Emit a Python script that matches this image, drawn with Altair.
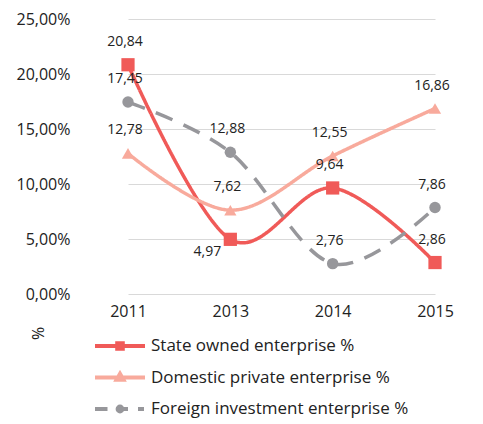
import altair as alt
import pandas as pd

years = ["2011", "2013", "2014", "2015"]
series = ["State owned enterprise %", "Domestic private enterprise %", "Foreign investment enterprise %"]
state = [20.84, 4.97, 9.64, 2.86]
domestic = [12.78, 7.62, 12.55, 16.86]
foreign = [17.45, 12.88, 2.76, 7.86]
colors = ["#F05A58", "#F8AA9C", "#97979B"]
markers = ["square", "triangle-up", "circle"]
marker_sizes = [175, 150, 130]
dashes = [[1, 0], [1, 0], [18, 12]]
# labels drawn below-left of their point (series, year)
below_labels = [("State owned enterprise %", "2013")]

# legend symbols: line + marker
legend_paths = [
    "M-2.5,0 H2.5 M-0.28,-0.28 H0.28 V0.28 H-0.28 Z",
    "M-2.5,0 H2.5 M0,-0.38 L0.34,0.22 L-0.34,0.22 Z",
    "M-2.5,0 H-1.25 M-0.4,0 H0.8 M1.8,0 H2.4 M0.24,0 A0.24,0.24 0 1,1 -0.24,0 A0.24,0.24 0 1,1 0.24,0 Z",
]

rows = []
for name, vals in zip(series, [state, domestic, foreign]):
    for y, v in zip(years, vals):
        rows.append({"series": name, "year": y, "value": v,
                     "below": (name, y) in below_labels})
df = pd.DataFrame(rows)

FONT = "Open Sans"
TXT = "#222222"

x_enc = alt.X("year:O", scale=alt.Scale(type="point", range=[51, 358], padding=0),
              axis=alt.Axis(title=None, labelFontSize=16, labelColor=TXT,
                            labelFont=FONT, ticks=False, domain=False, grid=False,
                            labelPadding=9, labelAngle=0))
y_enc = alt.Y("value:Q", scale=alt.Scale(domain=[0, 25]),
              axis=alt.Axis(title="%", values=[0, 5, 10, 15, 20, 25],
                            labelExpr="replace(format(datum.value, '.2f'), '.', ',') + '%'",
                            labelFontSize=16, labelColor=TXT, labelFont=FONT,
                            ticks=False, domain=False, gridColor="#D9D9D9", gridWidth=1.2,
                            labelPadding=7, titleX=-39, titleY=314, titleAngle=-90,
                            titleFontSize=16, titleFontWeight="normal", titleFont=FONT,
                            titleColor=TXT, titleAlign="center", titleBaseline="middle"))

base = alt.Chart(df)

line_layers = []
point_layers = []
for name, col, dash, shp, sz in zip(series, colors, dashes, markers, marker_sizes):
    sub = base.transform_filter(alt.datum.series == name)
    line_layers.append(
        sub.mark_line(interpolate="cardinal", strokeWidth=3.5, color=col, strokeDash=dash)
        .encode(x=x_enc, y=y_enc)
    )
    point_layers.append(
        sub.mark_point(shape=shp, filled=True, opacity=1, size=sz, color=col)
        .encode(x=x_enc, y=y_enc)
    )

label_expr = "replace(format(datum.value, '.2f'), '.', ',')"
labels_above = base.transform_filter("!datum.below").transform_calculate(
    lbl=label_expr).mark_text(dy=-23, dx=-3, fontSize=14, font=FONT, color=TXT).encode(
    x=x_enc, y=y_enc, text="lbl:N")
labels_below = base.transform_filter("datum.below").transform_calculate(
    lbl=label_expr).mark_text(dy=13, dx=-23, fontSize=14, font=FONT, color=TXT).encode(
    x=x_enc, y=y_enc, text="lbl:N")

leg = alt.Legend(title=None, orient="none", legendX=31, legendY=315, labelFontSize=17,
                 labelFont=FONT, labelColor=TXT, symbolSize=400, labelOffset=19,
                 rowPadding=8.5, padding=0, symbolOpacity=1, symbolStrokeWidth=4,
                 labelLimit=0)
legend_layer = base.transform_filter("false").mark_point(filled=True, opacity=1, strokeWidth=4).encode(
    x=x_enc, y=y_enc,
    fill=alt.Fill("series:N", scale=alt.Scale(domain=series, range=colors), legend=leg),
    stroke=alt.Stroke("series:N", scale=alt.Scale(domain=series, range=colors), legend=leg),
    shape=alt.Shape("series:N", scale=alt.Scale(domain=series, range=legend_paths), legend=leg),
)

chart = alt.layer(*line_layers, *point_layers, labels_above, labels_below, legend_layer).properties(
    width=392, height=275,
    autosize=alt.AutoSizeParams(type="none"),
    padding={"left": 69, "top": 11, "right": 6, "bottom": 128},
).configure(background="white", view=alt.ViewConfig(stroke="transparent"))

chart.save("out.html", embed_options={"renderer": "svg", "actions": False})
